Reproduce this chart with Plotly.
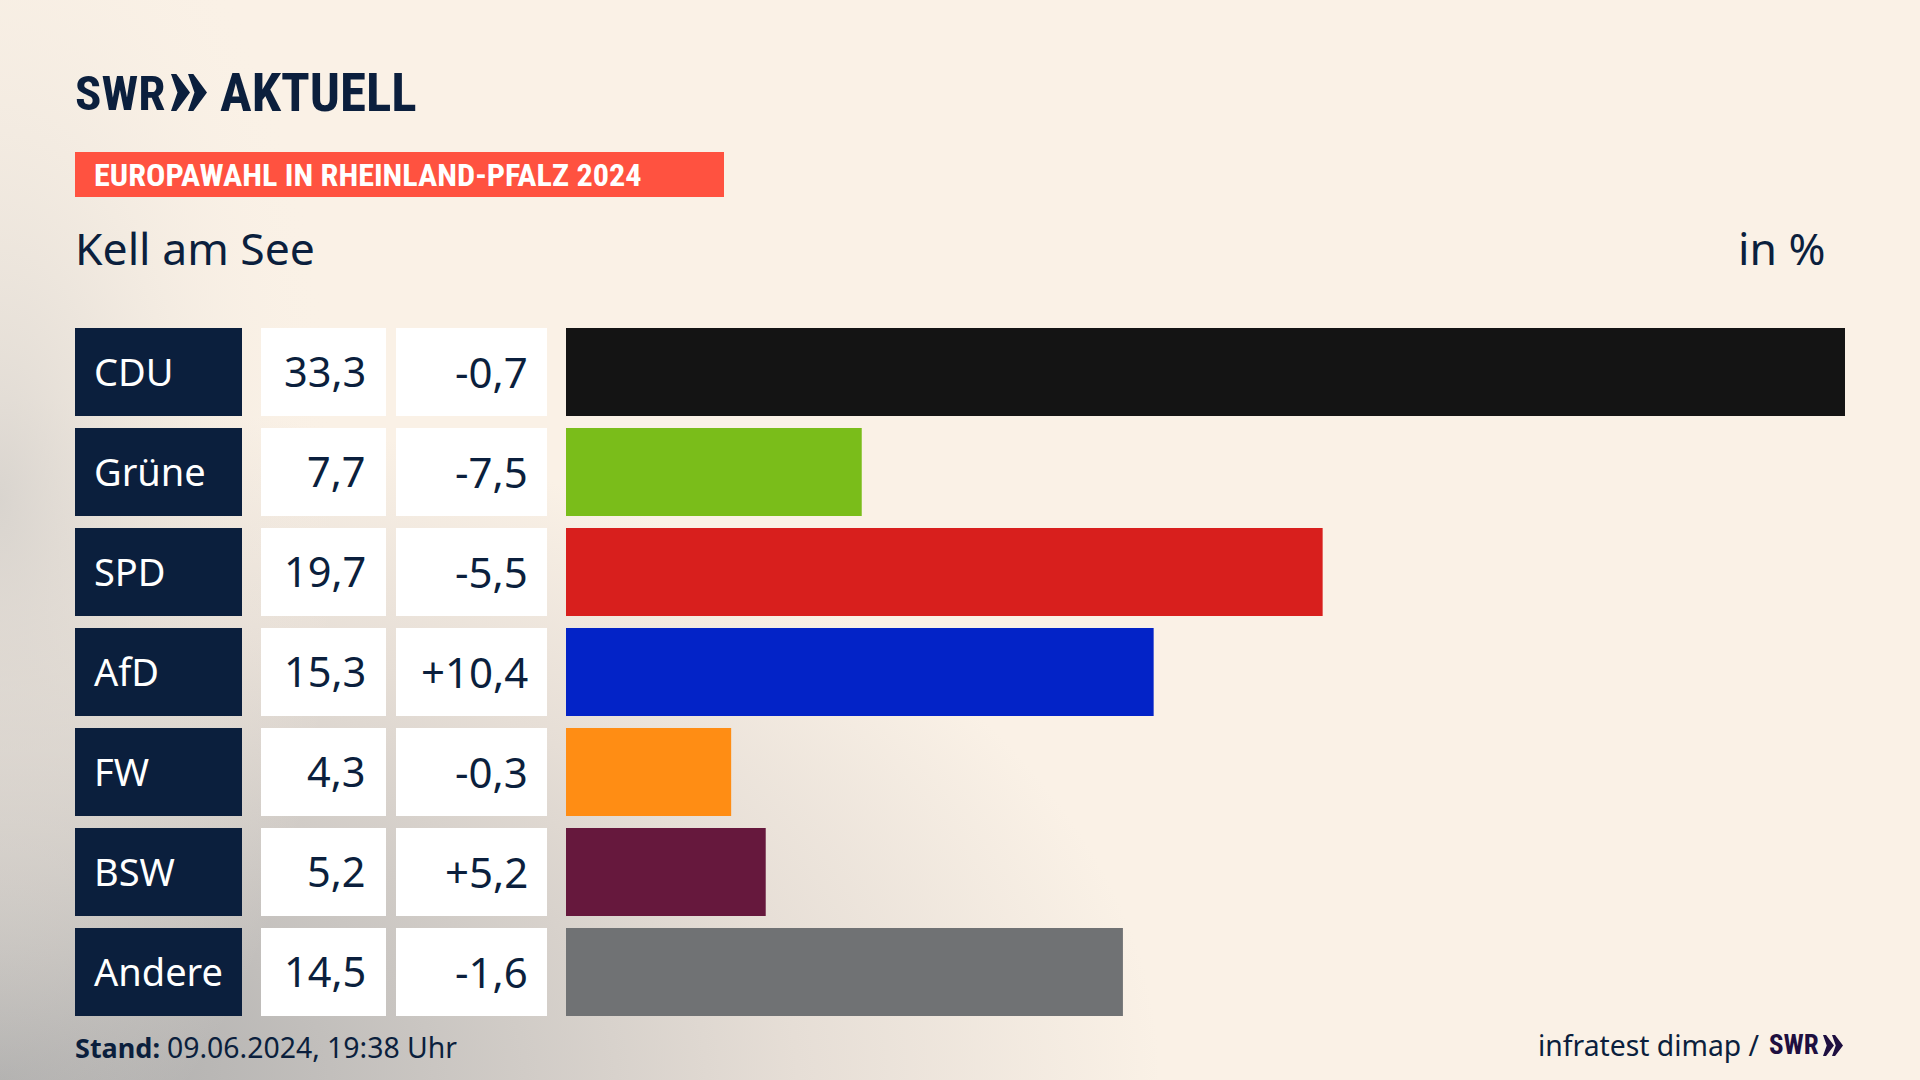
import base64
import plotly.graph_objects as go

W, H = 1920, 1080

parties = ["CDU", "Grüne", "SPD", "AfD", "FW", "BSW", "Andere"]
shares = [33.3, 7.7, 19.7, 15.3, 4.3, 5.2, 14.5]
changes = ["-0,7", "-7,5", "-5,5", "+10,4", "-0,3", "+5,2", "-1,6"]
bar_colors = ["#141414", "#7abd1a", "#d81f1d", "#0323c7", "#ff8d14", "#66183d", "#707274"]

NAVY = "#0b1f3d"
FONT = "Noto Sans"
NARROW = "Roboto Condensed"


def px(x):
    return x / W


def py(y):
    return 1 - y / H


def chevrons(x0, top, bottom, w, gap):
    # the two arrows of the logo, in paper coordinates
    mid = (top + bottom) / 2
    paths = []
    for i in range(2):
        a = x0 + i * gap
        pts = [(a, top), (a + w * 0.28, top), (a + w, mid), (a + w * 0.28, bottom), (a, bottom), (a + w * 0.34, mid)]
        paths.append("M " + " L ".join(f"{px(p[0]):.5f},{py(p[1]):.5f}" for p in pts) + " Z")
    return paths


bg_svg = f"""<svg xmlns="http://www.w3.org/2000/svg" width="{W}" height="{H}">
<defs>
<radialGradient id="a" gradientUnits="userSpaceOnUse" cx="0" cy="0" r="1" gradientTransform="translate(0 {H}) scale(1450 850)">
<stop offset="0" stop-color="#a9a9a9"/>
<stop offset="0.3" stop-color="#cac6c2"/>
<stop offset="0.55" stop-color="#e6ded6"/>
<stop offset="0.8" stop-color="#faf1e6"/>
</radialGradient>
<radialGradient id="b" gradientUnits="userSpaceOnUse" cx="0" cy="0" r="1" gradientTransform="translate(0 500) scale(340 700)">
<stop offset="0" stop-color="#d5d1cc" stop-opacity="0.85"/>
<stop offset="1" stop-color="#faf1e6" stop-opacity="0"/>
</radialGradient>
</defs>
<rect width="{W}" height="{H}" fill="url(#a)"/>
<rect width="{W}" height="{H}" fill="url(#b)"/>
</svg>"""
bg_uri = "data:image/svg+xml;base64," + base64.b64encode(bg_svg.encode()).decode()

fig = go.Figure()

# result bars
fig.add_trace(go.Bar(x=shares, y=parties, orientation="h", marker=dict(color=bar_colors, line_width=0),
                     xaxis="x", yaxis="y", hoverinfo="skip"))
# table cells are bars too, on their own x axes
fig.add_trace(go.Bar(x=[1 for p in parties], y=parties, orientation="h", marker=dict(color=NAVY, line_width=0),
                     xaxis="x2", yaxis="y", hoverinfo="skip"))
fig.add_trace(go.Bar(x=[1 for p in parties], y=parties, orientation="h", marker=dict(color="white", line_width=0),
                     xaxis="x3", yaxis="y", hoverinfo="skip"))
fig.add_trace(go.Bar(x=[1 for p in parties], y=parties, orientation="h", marker=dict(color="white", line_width=0),
                     xaxis="x4", yaxis="y", hoverinfo="skip"))

annotations = []


def text(x, y, s, size, color=NAVY, anchor="left", family=FONT, xref="paper", yref="paper", yshift=0):
    annotations.append(dict(x=x, y=y, text=s, xref=xref, yref=yref, xanchor=anchor, yanchor="middle",
                            showarrow=False, align=anchor, yshift=yshift,
                            font=dict(size=size, color=color, family=family),
                            borderpad=0, borderwidth=0))


for name, share, change in zip(parties, shares, changes):
    text(18.5 / 167, name, name, 38, "white", "left", xref="x2", yref="y", yshift=1)
    text(104.5 / 125, name, f"{share:.1f}".replace(".", ","), 41.5, NAVY, "right", xref="x3", yref="y", yshift=1)
    text(132 / 151, name, change, 42, NAVY, "right", xref="x4", yref="y", yshift=1)

text(px(75), py(93), "<b>SWR</b>", 49, NAVY, family=NARROW)
text(px(220), py(93), "<b>AKTUELL</b>", 53, NAVY, family=NARROW)
text(px(94), py(175), "<b>EUROPAWAHL IN RHEINLAND-PFALZ 2024</b>", 32.2, "white", family=NARROW)
text(px(75), py(247), "Kell am See", 44.5)
text(px(1826), py(247), "in %", 44.5, anchor="right")
text(px(75), py(1047), "<b>Stand:</b>", 27)
text(px(167), py(1047), "09.06.2024, 19:38 Uhr", 28.4)
text(px(1760), py(1045), "infratest dimap /", 28.3, anchor="right")
text(px(1769), py(1045), "<b>SWR</b>", 27, "#1e0f40", family=NARROW)

shapes = [dict(type="rect", xref="paper", yref="paper", x0=px(75), x1=px(724), y0=py(197), y1=py(152),
               fillcolor="#ff5240", line_width=0, layer="below")]
for p in chevrons(171, 74, 111, 19, 17):
    shapes.append(dict(type="path", path=p, xref="paper", yref="paper", fillcolor=NAVY, line_width=0))
for p in chevrons(1823, 1035, 1056, 11, 9):
    shapes.append(dict(type="path", path=p, xref="paper", yref="paper", fillcolor="#1e0f40", line_width=0))


def hidden(x0, x1, rng):
    return dict(domain=[px(x0), px(x1)], range=rng, visible=False, fixedrange=True)


fig.update_layout(
    width=W, height=H, margin=dict(l=0, r=0, t=0, b=0), showlegend=False,
    paper_bgcolor="#faf1e6", plot_bgcolor="rgba(0,0,0,0)", bargap=0.12,
    xaxis=hidden(566, 1845, [0, 33.3]),
    xaxis2=hidden(75, 242, [0, 1]),
    xaxis3=hidden(261, 386, [0, 1]),
    xaxis4=hidden(396, 547, [0, 1]),
    yaxis=dict(domain=[py(1022), py(322)], autorange="reversed", visible=False, fixedrange=True,
               categoryorder="array", categoryarray=parties),
    images=[dict(source=bg_uri, xref="paper", yref="paper", x=0, y=1, sizex=1, sizey=1,
                 xanchor="left", yanchor="top", sizing="stretch", layer="below")],
    shapes=shapes, annotations=annotations,
)

fig.write_html("out.html", config=dict(displayModeBar=False),
               post_script="document.body.style.margin='0';")
